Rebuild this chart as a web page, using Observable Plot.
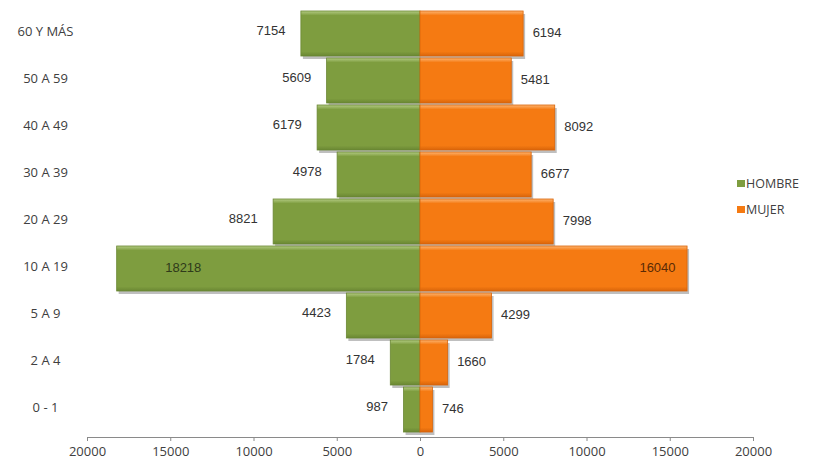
<!DOCTYPE html>
<html>
<head>
<meta charset="utf-8">
<script src="https://cdn.jsdelivr.net/npm/d3@7"></script>
<script src="https://cdn.jsdelivr.net/npm/@observablehq/plot@0.6"></script>
<style>
  html, body { margin: 0; padding: 0; background: #fff; }
  #wrap { position: relative; width: 832px; height: 462px; }
  #legend { position: absolute; left: 737px; top: 170px; font: 12.5px "Open Sans", sans-serif; color: #404040; }
  #legend div { display: flex; align-items: center; height: 26px; }
  #legend span.sw { display: inline-block; width: 8px; height: 7px; margin-right: 1px; }
</style>
</head>
<body>
<div id="wrap"><div id="legend"></div></div>
<script>
const categories = ["60 Y MÁS", "50 A 59", "40 A 49", "30 A 39", "20 A 29", "10 A 19", "5 A 9", "2 A 4", "0 - 1"];
const hombre = [7154, 5609, 6179, 4978, 8821, 18218, 4423, 1784, 987];
const mujer = [6194, 5481, 8092, 6677, 7998, 16040, 4299, 1660, 746];
const seriesNames = ["HOMBRE", "MUJER"];
const seriesColors = ["#7E9D3F", "#F57A12"];
const xTicks = [-20000, -15000, -10000, -5000, 0, 5000, 10000, 15000, 20000];

const rows = [];
categories.forEach((c, i) => {
  rows.push({cat: c, serie: "HOMBRE", value: hombre[i], x1: -hombre[i], x2: 0});
  rows.push({cat: c, serie: "MUJER", value: mujer[i], x1: 0, x2: mujer[i]});
});
const big = 15000;
const outside = rows.filter(d => d.value < big);
const inside = rows.filter(d => d.value >= big);
const numFont = "'Liberation Sans', Arial, sans-serif";

const plot = Plot.plot({
  width: 832,
  height: 462,
  marginLeft: 87,
  marginRight: 79,
  marginTop: 5,
  marginBottom: 25,
  style: {fontFamily: "'Open Sans', sans-serif", fontSize: "13px", color: "#404040", background: "#fff"},
  x: {domain: [-20000, 20000]},
  y: {domain: categories, padding: 0.05},
  marks: [
    Plot.rect(rows, {x1: "x1", x2: "x2", y: "cat", fill: "#000", fillOpacity: 0.25, dx: 2, dy: 3, ariaLabel: "shadow"}),
    Plot.rect(rows, {x1: "x1", x2: "x2", y: "cat", fill: d => d.serie === "HOMBRE" ? "url(#gGreen)" : "url(#gOrange)", stroke: d => d.serie === "HOMBRE" ? "#6A8733" : "#D9650A", strokeWidth: 0.8, ariaLabel: "bars"}),
    Plot.text(outside.filter(d => d.serie === "HOMBRE"), {x: "x1", y: "cat", text: d => String(d.value), textAnchor: "end", dx: -16, dy: -3, fill: "#333", fontFamily: numFont, fontSize: 13}),
    Plot.text(outside.filter(d => d.serie === "MUJER"), {x: "x2", y: "cat", text: d => String(d.value), textAnchor: "start", dx: 9, dy: -1, fill: "#333", fontFamily: numFont, fontSize: 13}),
    Plot.text(inside.filter(d => d.serie === "HOMBRE"), {x: "x1", y: "cat", text: d => String(d.value), textAnchor: "start", dx: 48, dy: -1, fill: "#2f3a1a", fontFamily: numFont, fontSize: 13}),
    Plot.text(inside.filter(d => d.serie === "MUJER"), {x: "x2", y: "cat", text: d => String(d.value), textAnchor: "end", dx: -12, dy: -1, fill: "#5a2a05", fontFamily: numFont, fontSize: 13}),
    Plot.axisY({tickSize: 0, tickPadding: 42, textAnchor: "middle", label: null, fill: "#404040", dy: -2}),
    Plot.axisX({ticks: xTicks, tickFormat: d => String(Math.abs(d)), tickSize: 4, tickPadding: 5, label: null, stroke: "#8a8a8a", fill: "#404040"}),
    Plot.frame({anchor: "bottom", stroke: "#8a8a8a"})
  ]
});

// gradients for bevel look
const svg = d3.select(plot);
const defs = svg.insert("defs", ":first-child");
function grad(id, light, mid, dark) {
  const g = defs.append("linearGradient").attr("id", id).attr("x1", 0).attr("y1", 0).attr("x2", 0).attr("y2", 1);
  g.append("stop").attr("offset", "0%").attr("stop-color", light);
  g.append("stop").attr("offset", "10%").attr("stop-color", mid);
  g.append("stop").attr("offset", "90%").attr("stop-color", mid);
  g.append("stop").attr("offset", "100%").attr("stop-color", dark);
}
grad("gGreen", "#B3CB83", seriesColors[0], "#6A8733");
grad("gOrange", "#FDB470", seriesColors[1], "#D9650A");
const f = defs.append("filter").attr("id", "blur").attr("x", "-10%").attr("y", "-20%").attr("width", "120%").attr("height", "140%");
f.append("feGaussianBlur").attr("stdDeviation", 2.5);
svg.select("g[aria-label='shadow']").attr("filter", "url(#blur)");

document.getElementById("wrap").prepend(plot);
plot.style.position = "absolute"; plot.style.left = "0"; plot.style.top = "0";

const legend = document.getElementById("legend");
seriesNames.forEach((n, i) => {
  const row = document.createElement("div");
  const sw = document.createElement("span");
  sw.className = "sw";
  sw.style.background = seriesColors[i];
  row.appendChild(sw);
  row.appendChild(document.createTextNode(n));
  legend.appendChild(row);
});
</script>
</body>
</html>
